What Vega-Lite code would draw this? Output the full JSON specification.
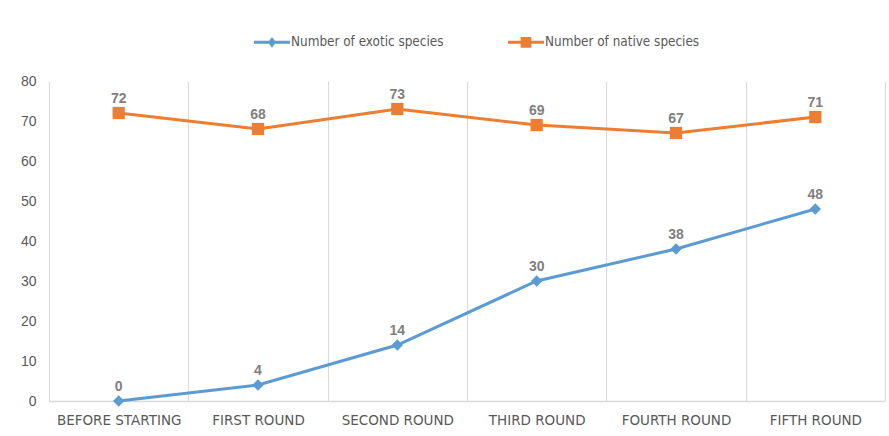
{
  "$schema": "https://vega.github.io/schema/vega-lite/v6.json",
  "autosize": "none",
  "width": 836,
  "height": 320,
  "padding": {"left": 49, "top": 81, "right": 4, "bottom": 35},
  "background": "white",
  "data": {
    "values": [
      {"round": "BEFORE STARTING", "series": "Number of exotic species", "value": 0},
      {"round": "FIRST ROUND", "series": "Number of exotic species", "value": 4},
      {"round": "SECOND ROUND", "series": "Number of exotic species", "value": 14},
      {"round": "THIRD ROUND", "series": "Number of exotic species", "value": 30},
      {"round": "FOURTH ROUND", "series": "Number of exotic species", "value": 38},
      {"round": "FIFTH ROUND", "series": "Number of exotic species", "value": 48},
      {"round": "BEFORE STARTING", "series": "Number of native species", "value": 72},
      {"round": "FIRST ROUND", "series": "Number of native species", "value": 68},
      {"round": "SECOND ROUND", "series": "Number of native species", "value": 73},
      {"round": "THIRD ROUND", "series": "Number of native species", "value": 69},
      {"round": "FOURTH ROUND", "series": "Number of native species", "value": 67},
      {"round": "FIFTH ROUND", "series": "Number of native species", "value": 71}
    ]
  },
  "encoding": {
    "x": {
      "field": "round",
      "type": "nominal",
      "sort": null,
      "scale": {"paddingInner": 0, "paddingOuter": 0},
      "axis": {
        "title": null,
        "labelAngle": 0,
        "tickBand": "extent",
        "grid": true,
        "gridColor": "#d9d9d9",
        "gridWidth": 1,
        "ticks": false,
        "domain": true,
        "domainColor": "#d9d9d9",
        "domainWidth": 1.5,
        "labelFont": "DejaVu Sans",
        "labelFontSize": 13.5,
        "labelColor": "#595959",
        "labelPadding": 12
      }
    },
    "y": {
      "field": "value",
      "type": "quantitative",
      "scale": {"domain": [0, 80]},
      "axis": {
        "title": null,
        "values": [0, 10, 20, 30, 40, 50, 60, 70, 80],
        "grid": false,
        "domain": false,
        "ticks": false,
        "labelFont": "Liberation Sans",
        "labelFontSize": 14,
        "labelColor": "#595959",
        "labelPadding": 13
      }
    },
    "color": {
      "field": "series",
      "type": "nominal",
      "scale": {
        "domain": ["Number of exotic species", "Number of native species"],
        "range": ["#5B9BD5", "#ED7D31"]
      },
      "legend": {
        "title": null,
        "orient": "none",
        "direction": "horizontal",
        "legendX": 205,
        "legendY": -57,
        "padding": 0,
        "symbolSize": 1296,
        "symbolStrokeWidth": 0,
        "labelOffset": 1,
        "labelLimit": 400,
        "columnPadding": 64,
        "labelFont": "DejaVu Sans Condensed",
        "labelFontSize": 13.4,
        "labelColor": "#595959",
        "encode": {
          "symbols": {
            "update": {
              "fill": {"scale": "color", "field": "value"},
              "strokeWidth": {"value": 0},
              "size": {"value": 1296},
              "shape": {"signal": "datum.value === 'Number of exotic species' ? 'M-1,-0.083L1,-0.083L1,0.083L-1,0.083Z M0,-0.3L0.22,0L0,0.3L-0.22,0Z' : 'M-1,-0.083L1,-0.083L1,0.083L-1,0.083Z M-0.3,-0.3L0.3,-0.3L0.3,0.3L-0.3,0.3Z'"}
            }
          }
        }
      }
    }
  },
  "layer": [
    {"mark": {"type": "line", "strokeWidth": 3}},
    {
      "transform": [{"filter": "datum.series === 'Number of exotic species'"}],
      "mark": {"type": "point", "filled": true, "opacity": 1, "shape": "diamond", "size": 130}
    },
    {
      "transform": [{"filter": "datum.series === 'Number of native species'"}],
      "mark": {"type": "point", "filled": true, "opacity": 1, "shape": "square", "size": 150}
    },
    {
      "mark": {"type": "text", "dy": -14, "fontWeight": "bold", "fontSize": 14, "font": "Liberation Sans", "color": "#7f7f7f"},
      "encoding": {
        "text": {"field": "value", "type": "quantitative"},
        "color": {"value": "#7f7f7f"}
      }
    }
  ],
  "config": {"view": {"stroke": null}}
}
